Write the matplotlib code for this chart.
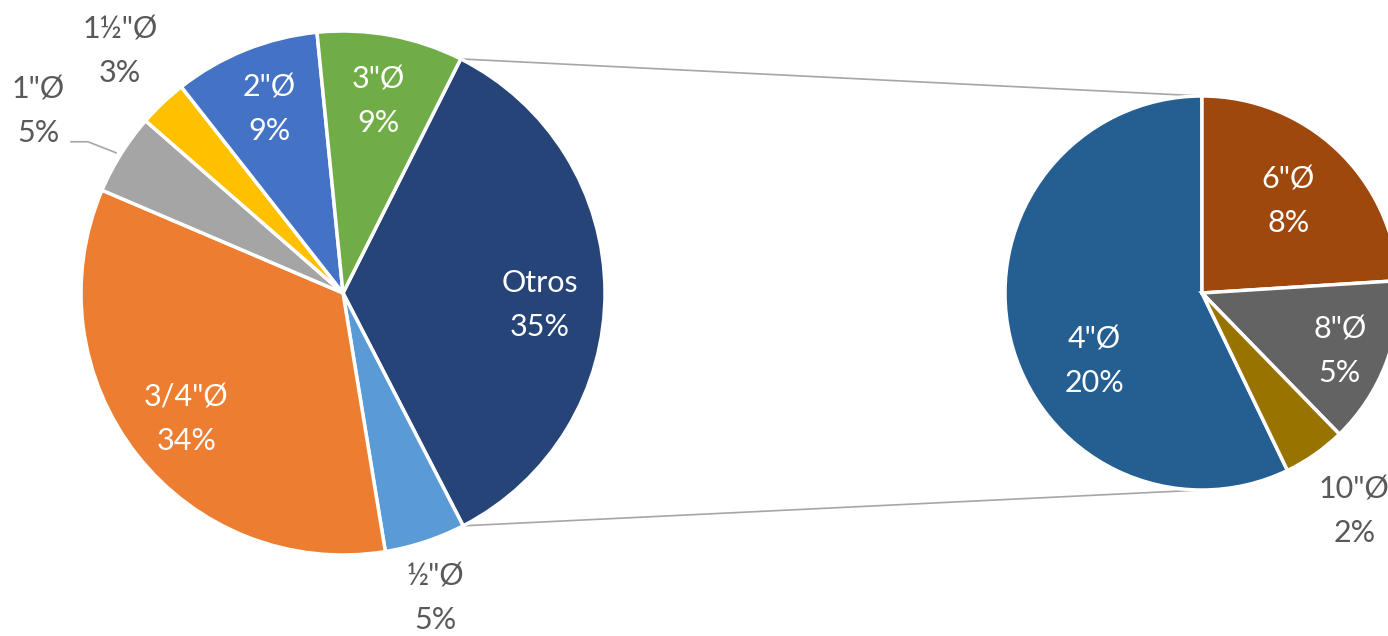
import matplotlib.pyplot as plt
import numpy as np

plt.rcParams['font.family'] = ['Lato', 'DejaVu Sans']

# main pie (clockwise from "Otros")
main_labels = ['Otros', '½"Ø', '3/4"Ø', '1"Ø', '1½"Ø', '2"Ø', '3"Ø']
main_values = [35, 5, 34, 5, 3, 9, 9]
main_colors = ['#264478', '#5B9BD5', '#ED7D31', '#A5A5A5', '#FFC000', '#4472C4', '#70AD47']

# breakdown of "Otros"
sub_labels = ['4"Ø', '6"Ø', '8"Ø', '10"Ø']
sub_values = [20.0, 8.4, 4.8, 1.8]
sub_colors = ['#255E91', '#9E480E', '#636363', '#997300']

W, H = 1388, 636
fig = plt.figure(figsize=(W / 100, H / 100), dpi=100)
ax = fig.add_axes([0, 0, 1, 1])

c1, r1 = (343, 343), 262
c2, r2 = (1202, 343), 197
total = sum(main_values)
sub_total = sum(sub_values)

wp = dict(edgecolor='white', linewidth=2.5)
w1, _ = ax.pie(main_values, colors=main_colors, center=c1, radius=r1,
               startangle=63.3, counterclock=False, wedgeprops=wp)
w2, _ = ax.pie(sub_values, colors=sub_colors, center=c2, radius=r2,
               startangle=90 - 360 + 360 * sub_values[0] / sub_total,
               counterclock=False, wedgeprops=wp)

# label placement: radius factor, inside/outside, nudge
main_rf = [0.75, 1.22, 0.76, 1.36, 1.26, 0.755, 0.745]
main_in = [True, False, True, False, False, True, True]
main_nudge = [(0, -13), (-8, -2), (0, -3), (-3, -8), (4, 2), (0, 0), (0, 0)]
sub_rf = [0.64, 0.64, 0.75, 1.35]
sub_in = [True, True, True, False]
sub_nudge = [(15, -40), (0, 0), (0, -5), (0, 0)]

def put_labels(wedges, labels, values, center, r, rf, inside, nudge):
    for i, w in enumerate(wedges):
        mid = np.deg2rad((w.theta1 + w.theta2) / 2)
        x = center[0] + rf[i] * r * np.cos(mid) + nudge[i][0]
        y = center[1] + rf[i] * r * np.sin(mid) + nudge[i][1]
        pct = 100 * values[i] / total
        ax.text(x, y, '%s\n%.0f%%' % (labels[i], pct), ha='center', va='center',
                fontsize=22, linespacing=1.68,
                color='white' if inside[i] else '#595959', zorder=5)

put_labels(w1, main_labels, main_values, c1, r1, main_rf, main_in, main_nudge)
put_labels(w2, sub_labels, sub_values, c2, r2, sub_rf, sub_in, sub_nudge)

# leader line for 1"Ø
w = w1[3]
mid = np.deg2rad((w.theta1 + w.theta2) / 2)
ex, ey = c1[0] + r1 * np.cos(mid), c1[1] + r1 * np.sin(mid)
ax.plot([ex - 50, ex - 33, ex - 5], [ey + 12, ey + 12, ey + 1], color='#A6A6A6', lw=1.2, zorder=0)

# connector lines from "Otros" to the secondary pie
o = w1[0]
ta, tb = np.deg2rad(o.theta2), np.deg2rad(o.theta1)
ax.plot([c1[0] + r1 * np.cos(ta), c2[0]], [c1[1] + r1 * np.sin(ta), c2[1] + r2],
        color='#A6A6A6', lw=1.2, zorder=0)
ax.plot([c1[0] + r1 * np.cos(tb), c2[0]], [c1[1] + r1 * np.sin(tb), c2[1] - r2],
        color='#A6A6A6', lw=1.2, zorder=0)

ax.set_xlim(0, W)
ax.set_ylim(0, H)
ax.set_aspect('equal')
ax.axis('off')

fig.savefig('out.png', dpi=100, facecolor='white')
